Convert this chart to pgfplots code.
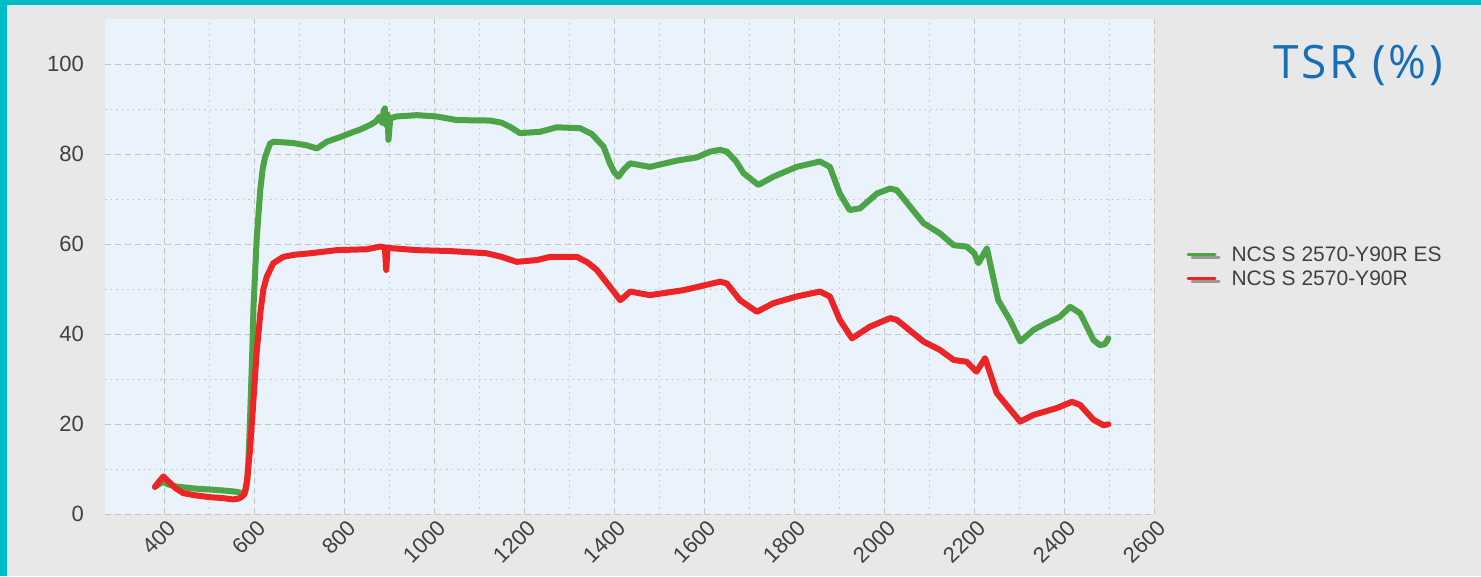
\documentclass[border=0pt]{standalone}
\usepackage{pgfplots}
\pgfplotsset{compat=1.18}
\usepackage{fontspec}
\setmainfont{Liberation Sans}
\newfontfamily\titlefont[LetterSpace=6]{Open Sans}
\definecolor{outerbg}{RGB}{232,232,232}
\definecolor{plotbg}{RGB}{234,242,251}
\definecolor{bordercyan}{RGB}{0,188,200}
\definecolor{gridgray}{RGB}{196,196,196}
\definecolor{lgreen}{RGB}{76,164,70}
\definecolor{lred}{RGB}{236,36,38}
\definecolor{titleblue}{RGB}{22,110,182}
\definecolor{labgray}{RGB}{64,64,64}
\begin{document}
\begin{tikzpicture}[x=1pt,y=1pt]
\fill[outerbg] (0,0) rectangle (1481,576);
\fill[bordercyan] (0,0) rectangle (7,576);
\fill[bordercyan] (0,571) rectangle (1481,576);
\useasboundingbox (0,0) rectangle (1481,576);
\begin{axis}[
  at={(105pt,61.7pt)}, anchor=south west,
  scale only axis, width=1049.3pt, height=495pt,
  xmin=268, xmax=2600, ymin=0, ymax=110,
  axis background/.style={fill=plotbg},
  axis line style={draw=none},
  major tick length=0pt, minor tick length=0pt,
  xtick={400,600,...,2600}, ytick={0,20,...,100},
  minor xtick={500,700,...,2500}, minor ytick={10,30,...,90},
  grid=both,
  major grid style={gridgray, line width=1.4pt, dash pattern=on 6pt off 4pt},
  minor grid style={gridgray, line width=1.1pt, dash pattern=on 1.5pt off 4pt},
  /pgf/number format/assume math mode=true,
  /pgf/number format/1000 sep={},
  tick label style={font=\fontsize{22}{24}\selectfont, text=labgray},
  yticklabel style={anchor=east, inner sep=0pt, xshift=-21pt},
  xticklabel style={inner sep=0pt, xshift=8pt, yshift=-10pt, rotate=45, anchor=east},
  legend style={at={(1.0277,0.500)}, anchor=west, draw=none, fill=none,
    font=\fontsize{21}{23}\selectfont, text=labgray, row sep=4pt,
    /tikz/every odd column/.append style={column sep=9pt}},
  legend cell align=left,
  legend image code/.code={
    \draw[gray!80, line width=3pt] (4pt,-2.5pt) -- (31pt,-2.5pt);
    \draw[#1, line width=3pt] (0pt,0pt) -- (27pt,0pt);
  },
  every axis plot/.append style={line width=6pt, line join=round, line cap=round},
]
\addplot[lgreen] coordinates {
(379,6.1) (390,6.8) (397,7.2) (410,6.6) (425,6.2) (442,6.0) (470,5.7) (502,5.5)
(530,5.3) (561,5.0) (572,4.7) (580,5.0) (585,8) (590,20) (595,35) (598,46)
(605,61) (613,72) (618,76.5) (624,79.5) (635,82.4) (643,82.8) (686,82.5)
(716,82.0) (739,81.3) (761,82.8) (790,83.8) (813,84.7) (835,85.5) (857,86.5)
(870,87.3) (879,88.4) (884,87) (887,89.5) (890,90.2) (893,86.5) (896,88.8)
(898,83.2) (902,88.0) (916,88.4) (961,88.7) (1005,88.4) (1050,87.6) (1124,87.5)
(1150,87) (1170,86) (1190,84.7) (1235,85.0) (1272,86.0) (1324,85.8) (1350,84.5)
(1376,81.7) (1390,78.0) (1400,76) (1409,75.0) (1420,76.5) (1435,78.0) (1479,77.2)
(1539,78.6) (1583,79.3) (1613,80.6) (1635,81.0) (1650,80.6) (1670,78.5)
(1687,75.8) (1720,73.2) (1753,75.0) (1805,77.2) (1857,78.4) (1879,77.2)
(1901,71.3) (1923,67.6) (1946,68.0) (1984,71.3) (2013,72.4) (2028,72.0)
(2087,64.7) (2124,62.4) (2154,59.8) (2183,59.5) (2200,58) (2209,55.8)
(2228,59.1) (2253,47.6) (2280,43) (2302,38.4) (2332,41.0) (2360,42.5)
(2390,43.9) (2413,46.1) (2435,44.7) (2465,38.7) (2479,37.6) (2490,37.8) (2498,39.1)
};
\addlegendentry{NCS S 2570-Y90R ES}
\addplot[lred] coordinates {
(379,6.1) (390,7.5) (398,8.4) (410,7.2) (425,5.8) (442,4.7) (470,4.2) (502,3.8)
(530,3.6) (553,3.3) (565,3.5) (572,3.9) (578,4.5) (583,7) (590,14) (597,24)
(605,36) (614,45.4) (620,50) (627.5,52.8) (642,55.8) (664,57.2) (690,57.7)
(724,58.0) (783,58.7) (850,58.9) (870,59.3) (880,59.5) (890,59.3) (893,54.3)
(896,59.2) (961,58.7) (1035,58.5) (1116,58.0) (1150,57.2) (1183,56.1)
(1228,56.5) (1257,57.2) (1317,57.2) (1340,56) (1361,54.3) (1390,50.6)
(1413,47.6) (1422,48.3) (1435,49.5) (1479,48.7) (1553,49.8) (1605,51.0)
(1635,51.7) (1650,51.3) (1679,47.6) (1717,45.0) (1753,46.9) (1805,48.4)
(1857,49.5) (1879,48.4) (1901,43.2) (1928,39.1) (1968,41.7) (2013,43.6)
(2028,43.2) (2087,38.4) (2124,36.5) (2154,34.3) (2183,33.9) (2205,31.7)
(2224,34.7) (2250,26.9) (2302,20.6) (2332,22.1) (2383,23.6) (2417,25.0)
(2435,24.3) (2465,21.0) (2487,19.8) (2498,20.0)
};
\addlegendentry{NCS S 2570-Y90R}
\end{axis}
\node[anchor=base west, inner sep=0pt, text=titleblue, font=\titlefont\fontsize{46}{50}\selectfont] at (1273,497) {TSR (\%)};
\end{tikzpicture}
\end{document}
